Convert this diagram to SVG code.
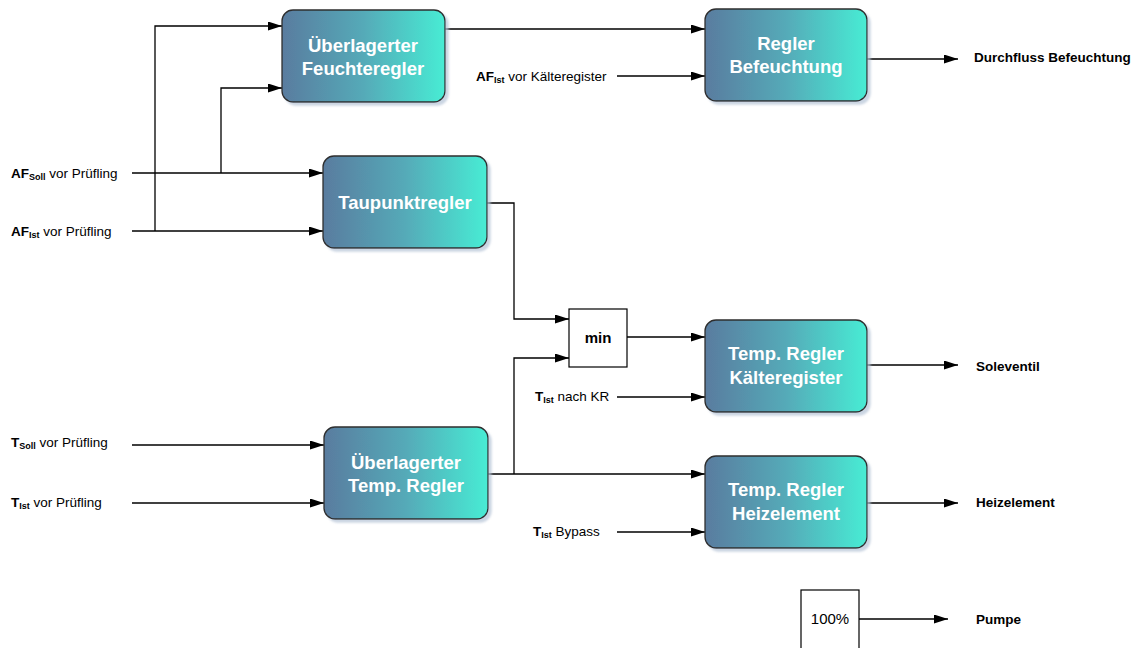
<svg xmlns="http://www.w3.org/2000/svg" width="1139" height="648" viewBox="0 0 1139 648">
  <defs>
    <linearGradient id="boxFill" x1="0" y1="0" x2="1" y2="0">
      <stop offset="0" stop-color="#5a7c9f"/>
      <stop offset="0.5" stop-color="#55aab8"/>
      <stop offset="1" stop-color="#48ecd4"/>
    </linearGradient>
    <marker id="arrow" viewBox="0 0 14 9" refX="14" refY="4.5" markerWidth="14" markerHeight="9" markerUnits="userSpaceOnUse" orient="auto">
      <path d="M0,0 L14,4.5 L0,9 z" fill="#000"/>
    </marker>
    <filter id="shadow" x="-10%" y="-10%" width="130%" height="130%">
      <feOffset in="SourceAlpha" dx="3" dy="3" result="off"/>
      <feGaussianBlur in="off" stdDeviation="1" result="blur"/>
      <feFlood flood-color="#b4c3d6" flood-opacity="0.7"/>
      <feComposite in2="blur" operator="in" result="shade"/>
      <feMerge><feMergeNode in="shade"/><feMergeNode in="SourceGraphic"/></feMerge>
    </filter>
  </defs>
  <style>
    .ctrl { fill: url(#boxFill); stroke: #2f2f2f; stroke-width: 1.3; filter: url(#shadow); }
    .ctrlText { font-family: "Liberation Sans", Arial, sans-serif; font-weight: bold; font-size: 18.5px; fill: #ffffff; text-anchor: middle; }
    .plain { fill: #ffffff; stroke: #000; stroke-width: 1.2; }
    .lbl { font-family: "Liberation Sans", Arial, sans-serif; font-size: 13.5px; fill: #000; }
    .b { font-weight: bold; }
    .sub { font-weight: bold; font-size: 9px; }
    .blockText { font-family: "Liberation Sans", Arial, sans-serif; font-size: 15px; fill: #000; text-anchor: middle; }
    .wire { fill: none; stroke: #000; stroke-width: 1.3; }
    .arr { marker-end: url(#arrow); }
  </style>
  <rect width="1139" height="648" fill="#ffffff"/>

  <!-- signal lines -->
  <g id="connectors">
    <path class="wire arr" d="M132,173 H323"/>
    <path class="wire arr" d="M132,231 H323"/>
    <path class="wire arr" d="M155,231 V26 H282"/>
    <path class="wire arr" d="M221,173 V88 H282"/>
    <path class="wire arr" d="M445,29 H705"/>
    <path class="wire arr" d="M617,76 H705"/>
    <path class="wire arr" d="M867,59 H958"/>
    <path class="wire arr" d="M487,203 H514 V319 H569"/>
    <path class="wire arr" d="M514,474 V358 H569"/>
    <path class="wire arr" d="M627,337 H705"/>
    <path class="wire arr" d="M617,397 H705"/>
    <path class="wire arr" d="M867,365 H958"/>
    <path class="wire arr" d="M132,445 H324"/>
    <path class="wire arr" d="M132,503 H324"/>
    <path class="wire arr" d="M488,474 H705"/>
    <path class="wire arr" d="M617,532 H705"/>
    <path class="wire arr" d="M867,503 H958"/>
    <path class="wire arr" d="M859,619 H948"/>
  </g>

  <!-- input / output labels -->
  <g id="labels">
    <text class="lbl" x="11" y="178"><tspan class="b">AF</tspan><tspan class="sub" dy="2">Soll</tspan><tspan dy="-2"> vor Prüfling</tspan></text>
    <text class="lbl" x="11" y="236"><tspan class="b">AF</tspan><tspan class="sub" dy="2">Ist</tspan><tspan dy="-2"> vor Prüfling</tspan></text>
    <text class="lbl" x="476" y="81"><tspan class="b">AF</tspan><tspan class="sub" dy="2">Ist</tspan><tspan dy="-2"> vor Kälteregister</tspan></text>
    <text class="lbl" x="11" y="447"><tspan class="b">T</tspan><tspan class="sub" dy="2">Soll</tspan><tspan dy="-2"> vor Prüfling</tspan></text>
    <text class="lbl" x="11" y="507"><tspan class="b">T</tspan><tspan class="sub" dy="2">Ist</tspan><tspan dy="-2"> vor Prüfling</tspan></text>
    <text class="lbl" x="535" y="401"><tspan class="b">T</tspan><tspan class="sub" dy="2">Ist</tspan><tspan dy="-2"> nach KR</tspan></text>
    <text class="lbl" x="533" y="536"><tspan class="b">T</tspan><tspan class="sub" dy="2">Ist</tspan><tspan dy="-2"> Bypass</tspan></text>
    <text class="lbl b" x="974" y="62">Durchfluss Befeuchtung</text>
    <text class="lbl b" x="976" y="371">Soleventil</text>
    <text class="lbl b" x="976" y="507">Heizelement</text>
    <text class="lbl b" x="976" y="624">Pumpe</text>
  </g>

  <g id="feuchteregler">
    <rect class="ctrl" x="282" y="10" width="163" height="92" rx="11"/>
    <text class="ctrlText" x="363" y="52">Überlagerter</text>
    <text class="ctrlText" x="363" y="75">Feuchteregler</text>
  </g>

  <g id="regler-befeuchtung">
    <rect class="ctrl" x="705" y="9" width="162" height="92" rx="11"/>
    <text class="ctrlText" x="786" y="50">Regler</text>
    <text class="ctrlText" x="786" y="73">Befeuchtung</text>
  </g>

  <g id="taupunktregler">
    <rect class="ctrl" x="323" y="156" width="164" height="92" rx="11"/>
    <text class="ctrlText" x="405" y="209">Taupunktregler</text>
  </g>

  <g id="min">
    <rect class="plain" x="569" y="309" width="58" height="58"/>
    <text class="blockText" x="598" y="343" font-weight="bold">min</text>
  </g>

  <g id="temp-kaelteregister">
    <rect class="ctrl" x="705" y="320" width="162" height="92" rx="11"/>
    <text class="ctrlText" x="786" y="360">Temp. Regler</text>
    <text class="ctrlText" x="786" y="384">Kälteregister</text>
  </g>

  <g id="temp-ueberlagert">
    <rect class="ctrl" x="324" y="427" width="164" height="92" rx="11"/>
    <text class="ctrlText" x="406" y="469">Überlagerter</text>
    <text class="ctrlText" x="406" y="492">Temp. Regler</text>
  </g>

  <g id="temp-heizelement">
    <rect class="ctrl" x="705" y="456" width="162" height="92" rx="11"/>
    <text class="ctrlText" x="786" y="496">Temp. Regler</text>
    <text class="ctrlText" x="786" y="520">Heizelement</text>
  </g>

  <g id="pumpe-konstant">
    <rect class="plain" x="801" y="590" width="58" height="70"/>
    <text class="blockText" x="830" y="624">100%</text>
  </g>
</svg>
